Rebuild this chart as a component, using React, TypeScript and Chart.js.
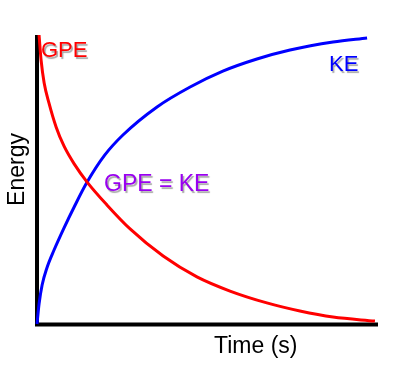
import React, { useEffect, useRef } from "react";
import { Chart, registerables } from "chart.js";

Chart.register(...registerables);

// Data (x: time 0-100, y: energy 0-100)
const gpeTime = [0.6, 1.2, 2.1, 3.5, 5.6, 7.9, 10.9, 14.7, 20.5, 27.3, 37.0, 46.9, 56.6, 67.4, 77.1, 86.8, 99.1];
const gpeEnergy = [100, 91.3, 83.4, 76.5, 68.2, 61.6, 55.4, 49.1, 41.2, 32.9, 23.5, 16.3, 11.4, 7.3, 4.5, 2.4, 1.0];

const keTime = [0, 0.6, 1.5, 2.9, 5.0, 7.9, 10.9, 14.7, 19.9, 25.2, 35.2, 44.9, 54.5, 64.5, 74.2, 86.8, 96.8];
const keEnergy = [0, 6.9, 13.5, 19.4, 25.6, 33.2, 40.5, 49.1, 58.5, 65.4, 75.1, 82.0, 87.5, 91.7, 94.8, 97.6, 99.0];

const labelGPE = "GPE";
const labelKE = "KE";
const labelEqual = "GPE = KE";
const xTitle = "Time (s)";
const yTitle = "Energy";

const FONT = '"Liberation Sans", Arial, sans-serif';

const decorPlugin = {
  id: "decor",
  beforeDatasetsDraw(chart: any) {
    const { ctx, chartArea } = chart;
    ctx.save();
    ctx.strokeStyle = "#000";
    ctx.lineWidth = 4;
    ctx.lineCap = "butt";
    ctx.beginPath();
    ctx.moveTo(chartArea.left, chartArea.top);
    ctx.lineTo(chartArea.left, chartArea.bottom + 2);
    ctx.stroke();
    ctx.beginPath();
    ctx.moveTo(chartArea.left - 2, chartArea.bottom + 0.5);
    ctx.lineTo(chartArea.right, chartArea.bottom + 0.5);
    ctx.stroke();
    ctx.restore();
  },
  afterDatasetsDraw(chart: any) {
    const { ctx, chartArea } = chart;
    ctx.save();
    ctx.textAlign = "left";
    ctx.textBaseline = "alphabetic";
    ctx.shadowColor = "rgba(0,0,0,0.35)";
    ctx.shadowOffsetX = 1.5;
    ctx.shadowOffsetY = 1.5;
    ctx.shadowBlur = 1;
    ctx.font = `22px ${FONT}`;
    ctx.fillStyle = "#ff0000";
    ctx.fillText(labelGPE, chartArea.left + 4, chartArea.top + 22);
    ctx.fillStyle = "#0000ff";
    ctx.fillText(labelKE, chartArea.left + 292, chartArea.top + 36);
    ctx.fillStyle = "#9900f0";
    ctx.font = `23px ${FONT}`;
    ctx.fillText(labelEqual, chartArea.left + 67, chartArea.top + 156);
    ctx.shadowColor = "rgba(0,0,0,0)";
    ctx.fillStyle = "#000";
    ctx.font = `23px ${FONT}`;
    ctx.fillText(xTitle, chartArea.left + 177, chartArea.bottom + 29);
    ctx.translate(chartArea.left - 13, (chartArea.top + chartArea.bottom) / 2 - 10);
    ctx.rotate(-Math.PI / 2);
    ctx.textAlign = "center";
    ctx.fillText(yTitle, 0, 0);
    ctx.restore();
  },
};

export default function App() {
  const canvasRef = useRef<HTMLCanvasElement | null>(null);

  useEffect(() => {
    if (!canvasRef.current) return;
    const chart = new Chart(canvasRef.current, {
      type: "scatter",
      data: {
        datasets: [
          {
            label: "GPE",
            data: gpeTime.map((t, i) => ({ x: t, y: gpeEnergy[i] })),
            showLine: true,
            borderColor: "#ff0000",
            borderWidth: 3,
            pointRadius: 0,
            cubicInterpolationMode: "monotone",
            clip: false,
          } as any,
          {
            label: "KE",
            data: keTime.map((t, i) => ({ x: t, y: keEnergy[i] })),
            showLine: true,
            borderColor: "#0000ff",
            borderWidth: 3,
            pointRadius: 0,
            cubicInterpolationMode: "monotone",
            clip: false,
          } as any,
        ],
      },
      options: {
        responsive: false,
        animation: false,
        layout: { padding: { left: 37, right: 18, top: 35, bottom: 51 } },
        plugins: { legend: { display: false }, tooltip: { enabled: false } },
        scales: {
          x: { type: "linear", min: 0, max: 100, display: false },
          y: { type: "linear", min: 0, max: 100, display: false },
        },
      },
      plugins: [decorPlugin],
    });
    return () => chart.destroy();
  }, []);

  return (
    <div style={{ position: "fixed", left: 0, top: 0, width: 396, height: 375, background: "#fff" }}>
      <canvas ref={canvasRef} width={396} height={375} />
    </div>
  );
}
